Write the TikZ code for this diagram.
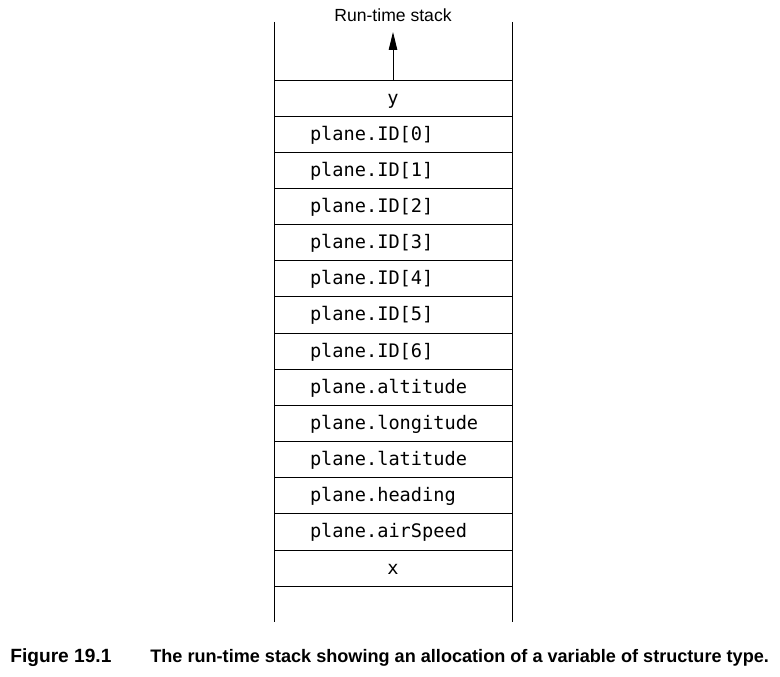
\documentclass[tikz,border=0pt]{standalone}
\usepackage{xcolor}
\usepackage{fontspec}
\setmainfont{Liberation Sans}
\setmonofont{DejaVu Sans Mono}
\usepackage{tikz}
\usetikzlibrary{shapes,arrows,arrows.meta,positioning}
\tikzstyle{cell} = [rectangle, draw, line width=0.5pt, minimum width=4.76cm, minimum height=0.723cm, inner ysep=0pt, inner xsep=0.72cm, text width=3.32cm, text height=0.48cm, text depth=0.24cm, font=\fontsize{10.6}{12}\ttfamily]
\tikzstyle{field} = [cell, align=left]
\tikzstyle{var} = [cell, align=center]
\tikzstyle{side} = [draw, line width=0.5pt]
\tikzstyle{line} = [draw, line width=0.5pt, -{Triangle[length=0.36cm,width=0.17cm]}]
\tikzstyle{caption} = [anchor=base west, inner sep=0pt, font=\fontsize{10.3}{12}\bfseries]

\begin{document}
\begin{tikzpicture}[node distance=0.723cm, auto]
    \useasboundingbox (0,0) rectangle (15.6,-13.52);
    \node [var] (y) at (7.86,-1.9615) {y};
    \node [field, below of=y] (id0) {plane.ID[0]};
    \node [field, below of=id0] (id1) {plane.ID[1]};
    \node [field, below of=id1] (id2) {plane.ID[2]};
    \node [field, below of=id2] (id3) {plane.ID[3]};
    \node [field, below of=id3] (id4) {plane.ID[4]};
    \node [field, below of=id4] (id5) {plane.ID[5]};
    \node [field, below of=id5] (id6) {plane.ID[6]};
    \node [field, below of=id6] (alt) {plane.altitude};
    \node [field, below of=alt] (long) {plane.longitude};
    \node [field, below of=long] (lat) {plane.latitude};
    \node [field, below of=lat] (head) {plane.heading};
    \node [field, below of=head] (speed) {plane.airSpeed};
    \node [var, below of=speed] (x) {x};

    \coordinate (topleft) at (5.48,-0.44);
    \coordinate (topright) at (10.24,-0.44);
    \coordinate (botleft) at (5.48,-12.44);
    \coordinate (botright) at (10.24,-12.44);
    \coordinate (top) at (7.86,-0.64);
    \path [side] (topleft) -- (botleft);
    \path [side] (topright) -- (botright);

    \node [anchor=base, inner sep=0pt, font=\fontsize{10}{12}\selectfont] (title) at (7.86,-0.44) {Run-time stack};
    \path [line] (y.north) -- (top);

    \node [caption, font=\fontsize{10.9}{12}\bfseries] (fig) at (0.2,-13.24) {Figure 19.1};
    \node [caption] (text) at (3.0,-13.24) {The run-time stack showing an allocation of a variable of structure type.};
\end{tikzpicture}
\end{document}
